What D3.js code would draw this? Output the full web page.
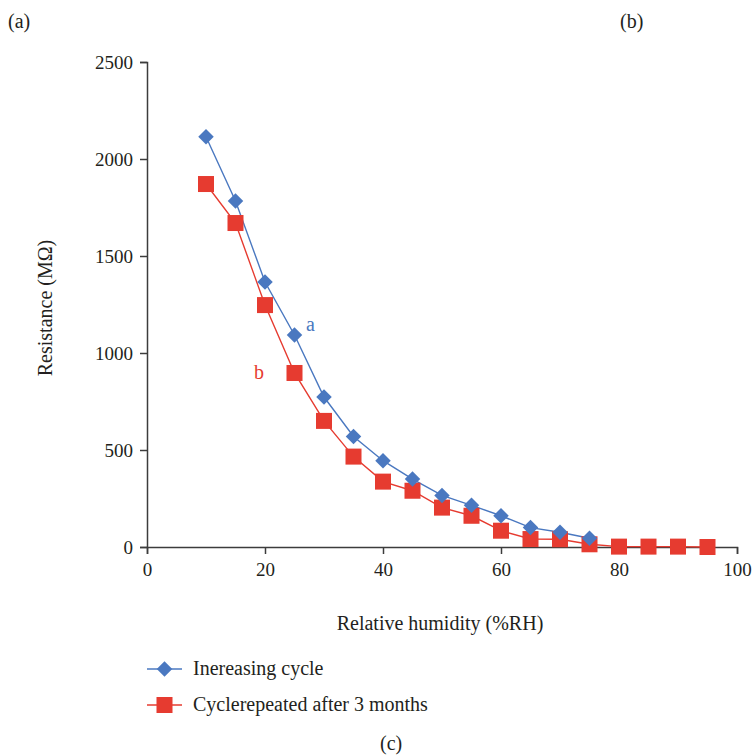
<!DOCTYPE html>
<html>
<head>
<meta charset="utf-8">
<script src="https://cdn.jsdelivr.net/npm/d3@7"></script>
<style>
  html, body { margin: 0; padding: 0; background: #fff; }
  svg { display: block; }
</style>
</head>
<body>
<svg id="chart" width="753" height="756"></svg>
<script>
// Relative humidity (%RH) sample points
const humidityIncreasing = [10, 15, 20, 25, 30, 35, 40, 45, 50, 55, 60, 65, 70, 75];
const resistanceIncreasing = [2115, 1784, 1366, 1093, 773, 570, 445, 350, 266, 215, 161, 100, 76, 45];

const humidityRepeated = [10, 15, 20, 25, 30, 35, 40, 45, 50, 55, 60, 65, 70, 75, 80, 85, 90, 95];
const resistanceRepeated = [1871, 1670, 1247, 897, 650, 466, 337, 290, 203, 161, 84, 41, 40, 14, 2, 2, 2, 0];

const xTicks = [0, 20, 40, 60, 80, 100];
const yTicks = [0, 500, 1000, 1500, 2000, 2500];

const seriesNames = ["Inereasing cycle", "Cyclerepeated after 3 months"];
const blue = "#4a78c0";
const red = "#e63b30";
const ink = "#231f20";
const FONT = "'Liberation Serif', 'Times New Roman', serif";

const svg = d3.select("#chart");

const x = d3.scaleLinear().domain([0, 100]).range([147, 737]);
const y = d3.scaleLinear().domain([0, 2500]).range([547, 62]);

function label(sel, size, color) {
  return sel.style("font-family", FONT).style("font-size", size + "px").style("fill", color || ink);
}

// Axes
const yAxis = d3.axisLeft(y).tickValues(yTicks).tickSize(7).tickPadding(7).tickFormat(d3.format("d"));
const xAxis = d3.axisBottom(x).tickValues(xTicks).tickSize(7).tickPadding(9).tickFormat(d3.format("d"));

const gy = svg.append("g").attr("transform", `translate(${x(0)},0)`).call(yAxis);
const gx = svg.append("g").attr("transform", `translate(0,${y(0)})`).call(xAxis);

[gx, gy].forEach(g => {
  g.select(".domain").attr("stroke", "#3c3c3c").attr("stroke-width", 1.5);
  g.selectAll(".tick line").attr("stroke", "#3c3c3c").attr("stroke-width", 1.5);
  label(g.selectAll(".tick text"), 19);
});

// Axis titles
label(svg.append("text"), 20)
  .attr("x", 440).attr("y", 630)
  .attr("text-anchor", "middle")
  .text("Relative humidity (%RH)");

label(svg.append("text"), 20)
  .attr("transform", "translate(52,308) rotate(-90)")
  .attr("text-anchor", "middle")
  .text("Resistance (MΩ)");

// Panel letters
label(svg.append("text"), 20).attr("x", 8).attr("y", 28).text("(a)");
label(svg.append("text"), 20).attr("x", 620).attr("y", 28).text("(b)");
label(svg.append("text"), 20).attr("x", 380).attr("y", 750).text("(c)");

// Series lines and markers
const line = d3.line().x(d => x(d[0])).y(d => y(d[1]));

const inc = humidityIncreasing.map((h, i) => [h, resistanceIncreasing[i]]);
const rep = humidityRepeated.map((h, i) => [h, resistanceRepeated[i]]);

svg.append("path").datum(rep)
  .attr("d", line).attr("fill", "none").attr("stroke", red).attr("stroke-width", 1.4);
svg.append("path").datum(inc)
  .attr("d", line).attr("fill", "none").attr("stroke", blue).attr("stroke-width", 1.4);

const sq = 16;
svg.append("g").selectAll("rect").data(rep).join("rect")
  .attr("x", d => x(d[0]) - sq / 2)
  .attr("y", d => y(d[1]) - sq / 2)
  .attr("width", sq).attr("height", sq)
  .attr("fill", red);

const diamond = d3.symbol().type(d3.symbolSquare).size(120);
svg.append("g").selectAll("path").data(inc).join("path")
  .attr("d", diamond)
  .attr("transform", d => `translate(${x(d[0])},${y(d[1])}) rotate(45)`)
  .attr("fill", blue);

// Curve labels
label(svg.append("text"), 20, blue).attr("x", 306).attr("y", 331).text("a");
label(svg.append("text"), 20, red).attr("x", 254).attr("y", 379).text("b");

// Legend
const legend = svg.append("g");
const legendRows = [
  { name: seriesNames[0], color: blue, shape: "diamond", y: 669 },
  { name: seriesNames[1], color: red, shape: "square", y: 705 }
];
legendRows.forEach(r => {
  legend.append("line")
    .attr("x1", 147).attr("x2", 182).attr("y1", r.y).attr("y2", r.y)
    .attr("stroke", r.color).attr("stroke-width", 1.4);
  if (r.shape === "diamond") {
    legend.append("path").attr("d", diamond)
      .attr("transform", `translate(164.5,${r.y}) rotate(45)`).attr("fill", r.color);
  } else {
    legend.append("rect").attr("x", 164.5 - sq / 2).attr("y", r.y - sq / 2)
      .attr("width", sq).attr("height", sq).attr("fill", r.color);
  }
  label(legend.append("text"), 20).attr("x", 193).attr("y", r.y + 6).text(r.name);
});
</script>
</body>
</html>
